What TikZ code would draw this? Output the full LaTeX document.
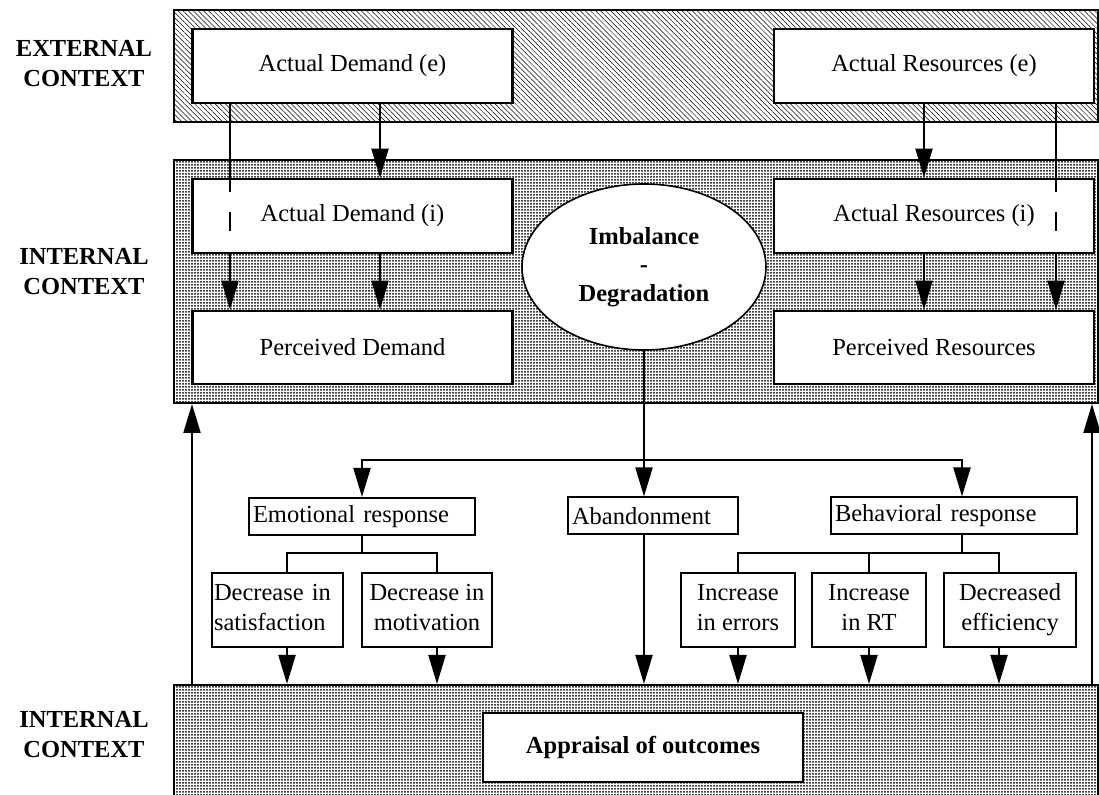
\documentclass[tikz,border=0pt]{standalone}
\usepackage{fontspec}
\setmainfont{Liberation Serif}
\usetikzlibrary{arrows.meta,shapes.geometric,patterns.meta,calc}

\tikzset{
	>={Triangle[length=14.5pt,width=8.5pt]},
	panel/.style={draw, line width=1pt, inner sep=0pt, minimum width=462pt},
	bigbox/.style={draw, line width=1.3pt, fill=white, inner sep=0pt, minimum width=160pt, minimum height=37pt},
	smallbox/.style={draw, line width=1pt, fill=white, inner xsep=2pt, inner ysep=0pt, align=left, minimum height=18.5pt},
	twobox/.style={draw, line width=1pt, fill=white, inner xsep=1pt, inner ysep=0pt, align=center, minimum height=37pt,
		execute at end node=\vphantom{y}},
	ctx/.style={font=\fontsize{12.25}{15}\selectfont\bfseries, align=center},
	link/.style={line width=1pt}
}

\begin{document}
\begin{tikzpicture}[x=0.5pt, y=-0.5pt, font=\fontsize{12.25}{15}\selectfont]
	\useasboundingbox (0,0) rectangle (1099,795);
	
	% context bands
	\node[panel, minimum height=56pt, pattern={Lines[angle=-45,distance=1.8pt,line width=0.25pt]}] (extpanel) at (636,66) {};
	\node[panel, minimum height=121.5pt, pattern={Dots[distance=1.5pt,radius=0.5pt]}] (intpanel) at (636,281.5) {};
	\node[panel, minimum height=65pt, pattern={Dots[distance=1.5pt,radius=0.5pt]}] (botpanel) at (636,750) {};
	
	\node[ctx] (extlbl) at (84,64) {EXTERNAL\\CONTEXT};
	\node[ctx] (intlbl) at (84,272) {INTERNAL\\CONTEXT};
	\node[ctx] (botlbl) at (84,735) {INTERNAL\\CONTEXT};
	
	% demand / resources
	\node[bigbox] (ade) at (352.5,66) {Actual Demand (e)\hspace{10pt}};
	\node[bigbox] (are) at (934,66) {Actual Resources (e)\hspace{24pt}};
	\node[bigbox] (adi) at (352.5,216) {Actual Demand (i)};
	\node[bigbox] (ari) at (934,216) {Actual Resources (i)\hspace{24pt}};
	\node[bigbox, minimum height=36.5pt] (pd) at (352.5,347.5) {Perceived Demand\hspace{14pt}};
	\node[bigbox, minimum height=36.5pt] (pr) at (934,347.5) {Perceived Resources\hspace{6pt}};
	
	\node[ellipse, draw, line width=0.8pt, fill=white, minimum width=122pt, minimum height=83pt, inner sep=0pt, font=\fontsize{12.25}{14.25}\selectfont\bfseries, align=center] (imb) at (644,267) {Imbalance\\-\\Degradation};
	
	% responses
	\node[smallbox, text width=109pt] (er) at (362,516.5) {Emotional response};
	\node[smallbox, text width=81pt] (ab) at (653,516) {Abandonment};
	\node[smallbox, text width=119pt] (br) at (954,516) {Behavioral response};
	
	\node[twobox, text width=63.5pt, align=left] (sat) at (277.5,610) {Decrease in\\satisfaction};
	\node[twobox, minimum width=65pt] (mot) at (427,610) {Decrease in\\motivation};
	\node[twobox, minimum width=57pt] (err) at (738,610) {Increase\\in errors};
	\node[twobox, minimum width=57pt] (rt) at (869,610) {Increase\\in RT};
	\node[twobox, minimum width=66pt] (eff) at (1010,610) {Decreased\\efficiency};
	
	\node[bigbox, minimum height=34.5pt, font=\fontsize{12.25}{15}\selectfont\bfseries] (app) at (643,747.5) {Appraisal of outcomes};
	
	% x positions of the vertical links
	\coordinate (xa) at (230,0);
	\coordinate (xb) at (380,0);
	\coordinate (xc) at (924,0);
	\coordinate (xd) at (1056,0);
	\coordinate (fl) at (192,0);
	\coordinate (fr) at (1092,0);
	\coordinate (t1) at (287,0);
	\coordinate (t2) at (437,0);
	\coordinate (t3) at (738,0);
	\coordinate (t4) at (869,0);
	\coordinate (t5) at (999,0);
	\coordinate (bar) at (644,460);
	\coordinate (brin) at (962,460);
	\coordinate (ej) at (362,553);
	\coordinate (bj) at (962,553);
	
	\foreach \x/\a/\b in {xb/ade/adi, xb/adi/pd, xc/are/ari, xc/ari/pr, xa/adi/pd, xd/ari/pr}
		\draw[link,->] (\x |- \a.south) -- (\x |- \b.north);
	
	% lines passing behind the (i) boxes
	\foreach \x/\a/\b in {xa/ade/adi, xd/are/ari}
	{
		\draw[link] (\x |- \a.south) -- ($(\x |- \b.north)+(0,14)$);
		\draw[link] ($(\x |- \b.north)+(0,34)$) -- ($(\x |- \b.north)+(0,53)$);
	}
	
	% feedback from the appraisal
	\draw[link,->] (fl |- botpanel.north) -- (fl |- intpanel.south);
	\draw[link,->] (fr |- botpanel.north) -- (fr |- intpanel.south);
	
	\draw[link,->] (imb.south) -- (imb.south |- ab.north);
	\draw[link,->] (bar) -| (er.north);
	\draw[link,->] (bar) -- (brin) -- (brin |- br.north);
	
	\draw[link] (er.south) -- (ej);
	\draw[link] (t1 |- sat.north) |- (ej) -| (t2 |- mot.north);
	\draw[link] (brin |- br.south) -- (bj);
	\draw[link] (t3 |- err.north) |- (bj) -| (t5 |- eff.north);
	\draw[link] (t4 |- rt.north) -- (t4 |- bj);
	
	\foreach \t/\b in {t1/sat, t2/mot, t3/err, t4/rt, t5/eff, bar/ab}
		\draw[link,->] (\t |- \b.south) -- (\t |- botpanel.north);
	
\end{tikzpicture}
\end{document}
